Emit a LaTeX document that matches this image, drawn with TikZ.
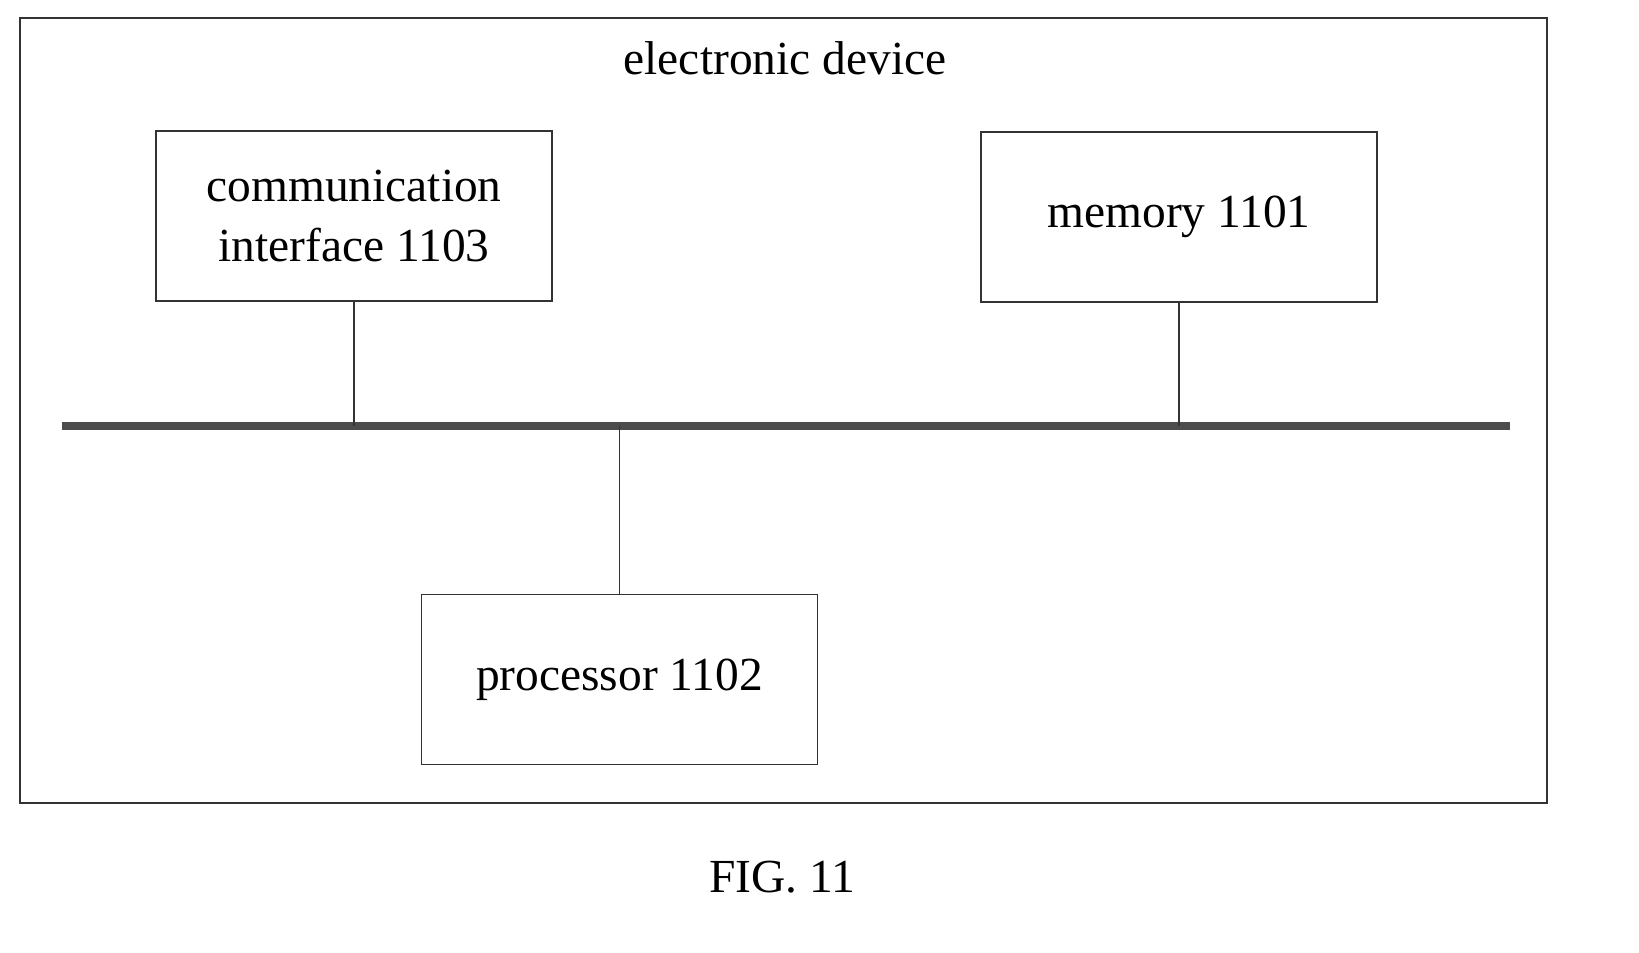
\documentclass[tikz,border=0pt]{standalone}
\usepackage{fontspec}
\setmainfont{Liberation Serif}
\usetikzlibrary{positioning}

\begin{document}
\begin{tikzpicture}[
    unit/.style={draw=black!80, thin, minimum width=3.96cm, minimum height=1.7cm, align=center,
        font=\fontsize{13.5}{17}\selectfont},
    link/.style={draw=black!80, thin}
]
    \useasboundingbox (0,0) rectangle (16.39,-9.53);
    % Outer device frame
    \draw[black!80, thin] (0.20,-0.18) rectangle (15.47,-8.03);
    \node[font=\fontsize{13.5}{17}\selectfont] (title) at (7.85,-0.58) {electronic device};
    % Units
    \node[unit] (comm) at (3.54,-2.16) {communication\\interface 1103};
    \node[unit] (mem) at (11.79,-2.17) {memory 1101};
    \node[unit] (proc) at (6.195,-6.795) {processor 1102};
    % Bus
    \coordinate (busL) at (0.62,-4.26);
    \coordinate (busR) at (15.10,-4.26);
    \draw[black!70, line width=2pt] (busL) -- (busR);
    \coordinate (tapC) at (comm.south |- busL);
    \coordinate (tapM) at (mem.south |- busL);
    \coordinate (tapP) at (proc.north |- busL);
    \draw[link] (comm.south) -- (tapC);
    \draw[link] (mem.south) -- (tapM);
    \draw[link] (proc.north) -- (tapP);
    % Caption
    \node[font=\fontsize{13.5}{17}\selectfont] (fig) at (7.82,-8.77) {FIG. 11};
\end{tikzpicture}
\end{document}
